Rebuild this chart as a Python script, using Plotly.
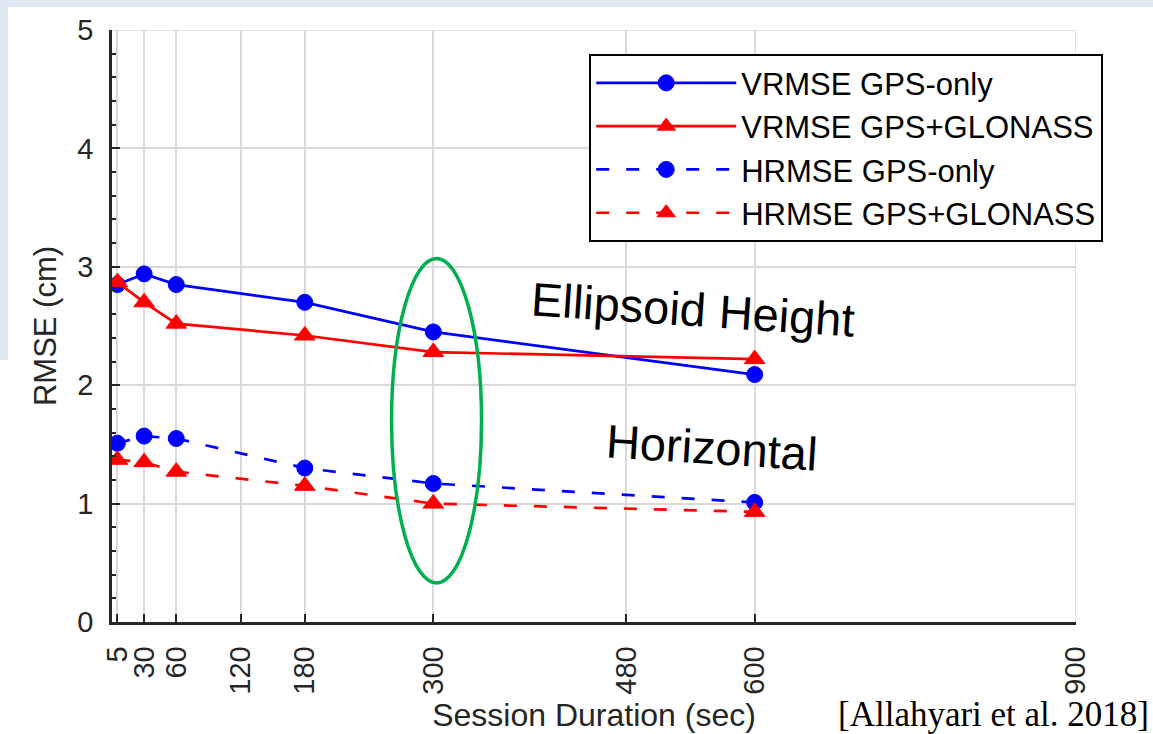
import plotly.graph_objects as go

# ---- data ----
session_sec = [5, 30, 60, 180, 300, 600]
vrmse_gps = [2.85, 2.94, 2.85, 2.70, 2.45, 2.09]
vrmse_gps_glo = [2.87, 2.70, 2.52, 2.42, 2.28, 2.22]
hrmse_gps = [1.51, 1.57, 1.55, 1.30, 1.17, 1.01]
hrmse_gps_glo = [1.37, 1.35, 1.27, 1.15, 1.00, 0.93]

x_ticks = [5, 30, 60, 120, 180, 300, 480, 600, 900]
y_ticks = [0, 1, 2, 3, 4, 5]

series_names = ["VRMSE GPS-only", "VRMSE GPS+GLONASS",
                "HRMSE GPS-only", "HRMSE GPS+GLONASS"]

# highlighted session (ellipse)
highlight_x = [261, 345]
highlight_y = [0.33, 3.07]

BLUE = "#0000FF"
RED = "#FF0000"
AX = "#262626"
GRID = "#d9d9d9"
FONT = "Liberation Sans, Arial, sans-serif"
DASH = "13px,17px"

fig = go.Figure()

def add(y, name, color, symbol, size, dash):
    fig.add_trace(go.Scatter(
        x=session_sec, y=y, name=name, mode="lines+markers",
        line=dict(color=color, width=2.7, dash=dash),
        marker=dict(color=color, symbol=symbol, size=size,
                    line=dict(color=color, width=1)),
    ))

add(vrmse_gps, series_names[0], BLUE, "circle", 16, "solid")
add(vrmse_gps_glo, series_names[1], RED, "triangle-up", 18, "solid")
add(hrmse_gps, series_names[2], BLUE, "circle", 16, DASH)
add(hrmse_gps_glo, series_names[3], RED, "triangle-up", 18, DASH)

# geometry helpers
L, R, T, B = 112, 77, 30, 112
W, H = 1153, 734
pw, ph = W - L - R, H - T - B
def px2paper_x(px):
    return (px - L) / pw
def px2paper_y(py):
    return (H - B - py) / ph

shapes = [
    # slide background strips
    dict(type="rect", xref="paper", yref="paper", layer="below",
         x0=px2paper_x(0), x1=px2paper_x(W), y0=px2paper_y(7), y1=px2paper_y(0),
         fillcolor="#dfe8f3", line=dict(width=0)),
    dict(type="rect", xref="paper", yref="paper", layer="below",
         x0=px2paper_x(0), x1=px2paper_x(8), y0=px2paper_y(360), y1=px2paper_y(0),
         fillcolor="#dfe8f3", line=dict(width=0)),
    # edge grid lines (top and right)
    dict(type="line", xref="paper", yref="y", layer="below",
         x0=0, x1=1, y0=y_ticks[-1], y1=y_ticks[-1],
         line=dict(color=GRID, width=1.5)),
    dict(type="line", xref="x", yref="paper", layer="below",
         x0=x_ticks[-1], x1=x_ticks[-1], y0=0, y1=1,
         line=dict(color=GRID, width=1.5)),
    # highlight ellipse
    dict(type="circle", xref="x", yref="y",
         x0=highlight_x[0], x1=highlight_x[1], y0=highlight_y[0], y1=highlight_y[1],
         line=dict(color="#00B050", width=3.5)),
]

annotations = [
    dict(text="Ellipsoid Height", x=px2paper_x(693), y=px2paper_y(309),
         xref="paper", yref="paper", xanchor="center", yanchor="middle",
         showarrow=False, textangle=3.8,
         font=dict(family=FONT, size=47, color="black")),
    dict(text="Horizontal", x=px2paper_x(712), y=px2paper_y(447),
         xref="paper", yref="paper", xanchor="center", yanchor="middle",
         showarrow=False, textangle=3.6,
         font=dict(family=FONT, size=47, color="black")),
    dict(text="[Allahyari et al. 2018]", x=px2paper_x(1151), y=px2paper_y(736),
         xref="paper", yref="paper", xanchor="right", yanchor="bottom",
         showarrow=False,
         font=dict(family="Liberation Serif, Times New Roman, serif", size=35, color="black")),
]

fig.update_layout(
    width=W, height=H,
    margin=dict(l=L, r=R, t=T, b=B),
    paper_bgcolor="white", plot_bgcolor="white",
    font=dict(family=FONT, color=AX),
    shapes=shapes, annotations=annotations,
    legend=dict(
        x=px2paper_x(1103), y=px2paper_y(54), xanchor="right", yanchor="top",
        bgcolor="white", bordercolor="black", borderwidth=2.2,
        font=dict(family=FONT, size=31, color="black"),
        itemwidth=140, tracegroupgap=0,
    ),
    xaxis=dict(
        range=[0, 900], tickvals=x_ticks, ticktext=[str(v) for v in x_ticks],
        tickangle=-90, ticks="inside", ticklen=8, tickwidth=2, tickcolor=AX,
        showline=True, linecolor=AX, linewidth=2.5,
        showgrid=True, gridcolor=GRID, gridwidth=1.5, zeroline=False,
        tickfont=dict(family=FONT, size=29, color=AX),
        ticklabelstandoff=10, automargin=False,
        title=dict(text="Session Duration (sec)", standoff=10,
                   font=dict(family=FONT, size=32, color=AX)),
    ),
    yaxis=dict(
        range=[0, 5], tickvals=y_ticks, ticktext=[str(v) for v in y_ticks],
        ticks="inside", ticklen=8, tickwidth=2, tickcolor=AX,
        minor=dict(dtick=0.2, ticks="inside", ticklen=4, tickwidth=1.5,
                   tickcolor=AX, showgrid=False),
        showline=True, linecolor=AX, linewidth=2.5,
        showgrid=True, gridcolor=GRID, gridwidth=1.5, zeroline=False,
        tickfont=dict(family=FONT, size=29, color=AX),
        ticklabelstandoff=10, automargin=False,
        title=dict(text="RMSE (cm)", standoff=12,
                   font=dict(family=FONT, size=31, color=AX)),
    ),
)

fig.write_html("out.html",
               config={"displayModeBar": False},
               post_script="document.body.style.margin='0';document.body.style.padding='0';")
